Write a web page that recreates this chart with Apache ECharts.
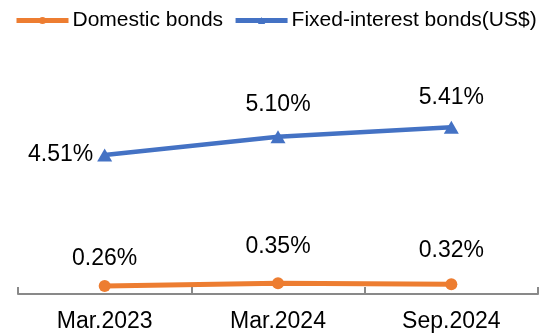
<!DOCTYPE html>
<html>
<head>
<meta charset="utf-8">
<script src="https://cdn.jsdelivr.net/npm/echarts@6/dist/echarts.min.js"></script>
<style>html,body{margin:0;padding:0;background:#fff}#c{width:550px;height:335px}</style>
</head>
<body>
<div id="c"></div>
<script>
var categories = ['Mar.2023', 'Mar.2024', 'Sep.2024'];
var domesticBonds = [0.26, 0.35, 0.32];
var fixedInterestBondsUSD = [4.51, 5.10, 5.41];
var seriesNames = ['Domestic bonds', 'Fixed-interest bonds(US$)'];

// label placement (style only)
var domesticLabelDist = [10, 19, 16];
var fixedLabelPos = ['left', 'top', 'top'];
var fixedLabelDist = [4, 14, 12];

var FONT = '"Liberation Sans", Arial, sans-serif';
var chart = echarts.init(document.getElementById('c'), null, {renderer: 'canvas'});

function fmt(p) { return p.value.toFixed(2) + '%'; }

chart.setOption({
  animation: false,
  legend: {
    top: 10, left: 14, width: 536, padding: 0,
    itemWidth: 52, itemHeight: 9, itemGap: 10,
    lineStyle: {width: 5},
    textStyle: {fontFamily: FONT, fontSize: 21, color: '#000', padding: [0, 0, 0, -1]},
    data: seriesNames
  },
  grid: {left: 18, right: 12, top: 109, bottom: 41},
  xAxis: {
    type: 'category',
    data: categories,
    boundaryGap: true,
    axisLine: {show: true, lineStyle: {color: '#898989', width: 2}},
    axisTick: {show: true, inside: true, length: 7, interval: 0, alignWithLabel: false, lineStyle: {color: '#898989', width: 2}},
    axisLabel: {fontFamily: FONT, fontSize: 23, color: '#000', margin: 16}
  },
  yAxis: {type: 'value', min: 0, max: 6, show: false, splitLine: {show: false}},
  series: [
    {
      name: seriesNames[0], type: 'line',
      data: domesticBonds.map(function (v, i) {
        return {value: v, label: {distance: domesticLabelDist[i]}};
      }),
      symbol: 'circle', symbolSize: 12,
      lineStyle: {color: '#ED7D31', width: 5},
      itemStyle: {color: '#ED7D31'},
      label: {show: true, position: 'top', formatter: fmt, fontFamily: FONT, fontSize: 23, color: '#000'}
    },
    {
      name: seriesNames[1], type: 'line',
      data: fixedInterestBondsUSD.map(function (v, i) {
        return {value: v, label: {position: fixedLabelPos[i], distance: fixedLabelDist[i]}};
      }),
      symbol: 'triangle', symbolSize: [15, 13],
      lineStyle: {color: '#4472C4', width: 4.5},
      itemStyle: {color: '#4472C4'},
      label: {show: true, position: 'top', formatter: fmt, fontFamily: FONT, fontSize: 23, color: '#000'}
    }
  ]
});
</script>
</body>
</html>
